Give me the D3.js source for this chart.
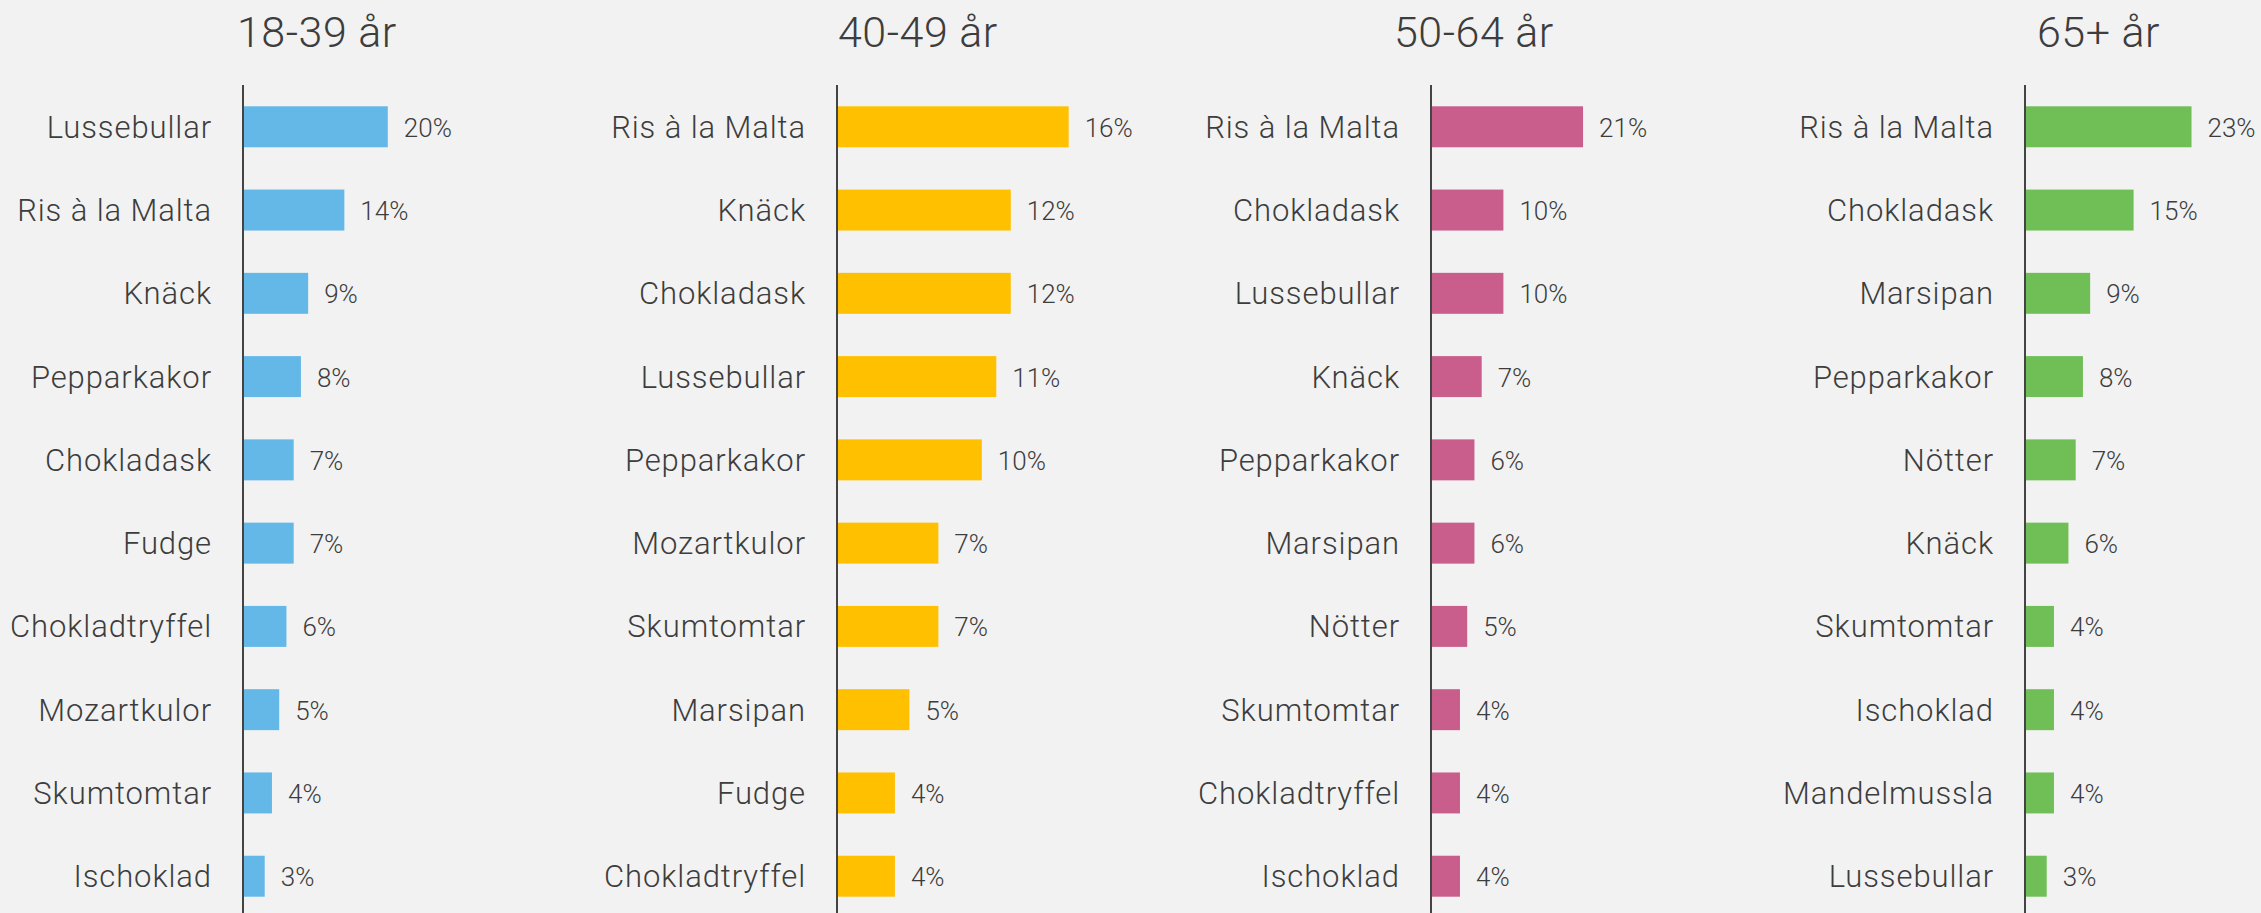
<!DOCTYPE html>
<html>
<head>
<meta charset="utf-8">
<script src="https://cdn.jsdelivr.net/npm/d3@7"></script>
<style>
  html, body { margin: 0; padding: 0; background: #f2f2f2; }
  text { font-family: Roboto, "Noto Sans", sans-serif; font-weight: 300; fill: #3d3d3d; }
</style>
</head>
<body>
<div id="chart"></div>
<script>
// data (share of answers in %)
var groups = ["18-39 år", "40-49 år", "50-64 år", "65+ år"];
var colors = ["#63b8e8", "#ffc000", "#c95e8c", "#6fbf56"];

var cats1839 = ["Lussebullar", "Ris à la Malta", "Knäck", "Pepparkakor", "Chokladask", "Fudge", "Chokladtryffel", "Mozartkulor", "Skumtomtar", "Ischoklad"];
var vals1839 = [20, 14, 9, 8, 7, 7, 6, 5, 4, 3];

var cats4049 = ["Ris à la Malta", "Knäck", "Chokladask", "Lussebullar", "Pepparkakor", "Mozartkulor", "Skumtomtar", "Marsipan", "Fudge", "Chokladtryffel"];
var vals4049 = [16, 12, 12, 11, 10, 7, 7, 5, 4, 4];

var cats5064 = ["Ris à la Malta", "Chokladask", "Lussebullar", "Knäck", "Pepparkakor", "Marsipan", "Nötter", "Skumtomtar", "Chokladtryffel", "Ischoklad"];
var vals5064 = [21, 10, 10, 7, 6, 6, 5, 4, 4, 4];

var cats65 = ["Ris à la Malta", "Chokladask", "Marsipan", "Pepparkakor", "Nötter", "Knäck", "Skumtomtar", "Ischoklad", "Mandelmussla", "Lussebullar"];
var vals65 = [23, 15, 9, 8, 7, 6, 4, 4, 4, 3];

var allCats = [cats1839, cats4049, cats5064, cats65];
var allVals = [vals1839, vals4049, vals5064, vals65];
// the 40-49 panel is drawn at twice the scale of the others
var xMax = [25, 12.5, 25, 25];

// layout
var W = 2261, H = 913;
var axisX0 = 243, panelStep = 594;
var titleOffset = [-6, 1, -37, 12];
var barSpan = 181;

var svg = d3.select("#chart")
  .append("svg")
    .attr("width", W)
    .attr("height", H);

svg.append("rect")
  .attr("width", W)
  .attr("height", H)
  .attr("fill", "#f2f2f2");

groups.forEach(function(g, i) {
  var cats = allCats[i], vals = allVals[i];
  var data = cats.map(function(c, j) { return {cat: c, val: vals[j]}; });

  var panel = svg.append("g")
    .attr("transform", "translate(" + (axisX0 + panelStep * i) + ",0)");

  var x = d3.scaleLinear()
    .domain([0, xMax[i]])
    .range([0, barSpan]);

  var y = d3.scaleBand()
    .domain(cats)
    .range([64, 939])
    .padding(0.508);

  // title
  panel.append("text")
    .attr("x", titleOffset[i])
    .attr("y", 47)
    .style("font-size", "43px")
    .style("letter-spacing", "0.5px")
    .text(g);

  // bars
  panel.selectAll(".bar")
    .data(data)
    .enter()
    .append("rect")
      .attr("class", "bar")
      .attr("x", 0)
      .attr("y", d => y(d.cat))
      .attr("width", d => x(d.val))
      .attr("height", y.bandwidth())
      .attr("fill", colors[i]);

  // value labels
  panel.selectAll(".val")
    .data(data)
    .enter()
    .append("text")
      .attr("class", "val")
      .attr("x", d => x(d.val) + 16)
      .attr("y", d => y(d.cat) + y.bandwidth() / 2 + 10)
      .style("font-size", "26px")
      .text(d => d.val + "%");

  // category axis (labels only)
  var yAxis = panel.append("g")
    .call(d3.axisLeft(y).tickSize(0).tickPadding(31));
  yAxis.select(".domain").remove();
  yAxis.selectAll("text")
    .attr("dy", null)
    .attr("y", 11)
    .style("font-family", "Roboto, sans-serif")
    .style("font-weight", 300)
    .style("font-size", "31px")
    .style("letter-spacing", "0.9px")
    .style("fill", "#3d3d3d");

  // vertical baseline
  panel.append("line")
    .attr("x1", 0).attr("x2", 0)
    .attr("y1", 85).attr("y2", H)
    .attr("stroke", "#444")
    .attr("stroke-width", 2);
});
</script>
</body>
</html>
